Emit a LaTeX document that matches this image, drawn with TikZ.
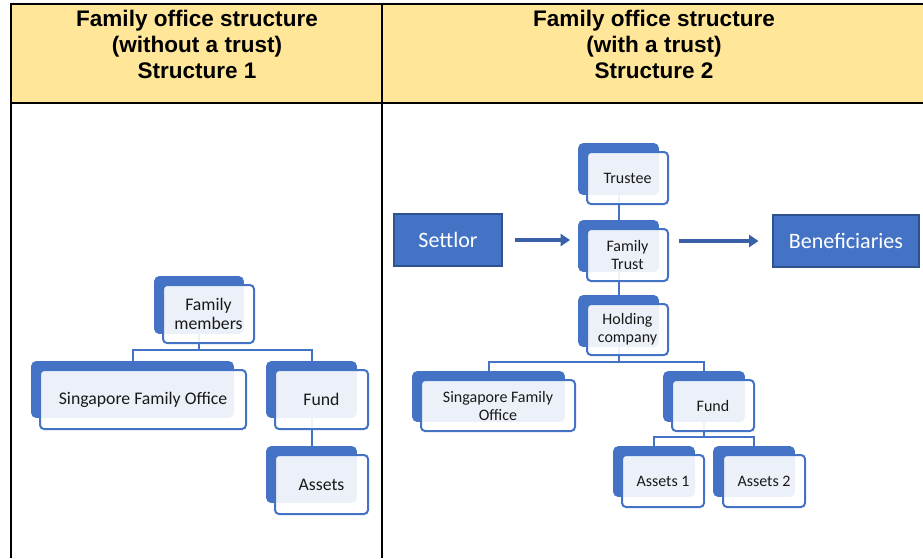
\documentclass[tikz,border=0pt]{standalone}
\usepackage{fontspec}
\usetikzlibrary{arrows.meta}
\newfontfamily\hdrfont{Liberation Sans}
\newfontfamily\calfont{Carlito}
\definecolor{blueA}{HTML}{4472C4}
\definecolor{blueD}{HTML}{2F528F}
\definecolor{arrowblue}{HTML}{3A60A8}
\definecolor{hdryellow}{HTML}{FFE699}
\pgfdeclarelayer{bg}
\pgfsetlayers{bg,main}
\tikzset{
  wh/.style 2 args={minimum width=#1*0.75pt, minimum height=#2*0.75pt},
  backbox/.style={draw=blueA, fill=blueA, rounded corners=3pt, inner sep=0pt, outer sep=0pt, line width=1.2pt},
  frontbox/.style={draw=blueA, fill=white, fill opacity=0.9, text opacity=1, draw opacity=1,
    rounded corners=3pt, inner sep=0pt, outer sep=0pt, line width=1.5pt, align=center, text=black!90},
  leftfont/.style={font=\calfont\fontsize{13.3}{14.4}\selectfont},
  rightfont/.style={font=\calfont\fontsize{12}{13.5}\selectfont},
  solidbox/.style={draw=blueD, fill=blueA, line width=0.8pt, inner sep=0pt, text=white,
    font=\calfont\fontsize{16.5}{18}\selectfont},
  conn/.style={draw=blueA, line width=1.5pt},
  bigarrow/.style={draw=arrowblue, line width=3pt, -{Triangle[length=7pt,width=9pt]}},
  hdrtext/.style={align=center, font=\hdrfont\bfseries\fontsize{16.9}{19.5}\selectfont},
  tableline/.style={draw=black, line width=1.5pt}
}
\begin{document}
\begin{tikzpicture}[x=0.75pt, y=-0.75pt]
\useasboundingbox (0,0) rectangle (923,558);
% table
\fill[hdryellow] (11,4) rectangle (923,103);
\draw[tableline] (10,4) -- (923,4);
\draw[tableline] (11,3) -- (11,558);
\draw[tableline] (382,3) -- (382,558);
\draw[tableline] (11,103) -- (923,103);
\node[hdrtext] (h1) at (197,44) {Family office structure\\(without a trust)\\Structure 1};
\node[hdrtext] (h2) at (654,44) {Family office structure\\(with a trust)\\Structure 2};

% ---------- Structure 1 ----------
\node[backbox, wh={88}{56}] (fmB) at (199,305) {};
\node[frontbox, leftfont, wh={91}{58}] (fm) at (208.5,314) {Family\\members};
\node[backbox, wh={201}{55}] (sfoB) at (132.5,389.5) {};
\node[frontbox, leftfont, wh={206}{59}] (sfo) at (143,399.5) {Singapore Family Office};
\node[backbox, wh={89}{55}] (fundB) at (311.5,389.5) {};
\node[frontbox, leftfont, wh={93}{59}] (fund) at (321.5,399.5) {Fund};
\node[backbox, wh={89}{55}] (asB) at (311.5,474.5) {};
\node[frontbox, leftfont, wh={93}{59}] (as) at (321.5,484.5) {Assets};
\coordinate (j1) at (199,350);

% ---------- Structure 2 ----------
\node[backbox, wh={79}{50}] (trB) at (618.5,169) {};
\node[frontbox, rightfont, wh={81}{52}] (tr) at (627.5,178) {Trustee};
\node[backbox, wh={79}{50}] (ftB) at (618.5,246) {};
\node[frontbox, rightfont, wh={81}{52}] (ft) at (627.5,255) {Family\\Trust};
\node[backbox, wh={79}{50}] (hcB) at (618.5,321) {};
\node[frontbox, rightfont, wh={81}{51}] (hc) at (627.5,329.5) {Holding\\company};
\node[backbox, wh={151}{49}] (sfo2B) at (488.5,396.5) {};
\node[frontbox, rightfont, wh={154}{51}] (sfo2) at (498,405.5) {Singapore Family\\Office};
\node[backbox, wh={80}{49}] (fund2B) at (704,396.5) {};
\node[frontbox, rightfont, wh={82}{51}] (fund2) at (713,405.5) {Fund};
\node[backbox, wh={80}{49}] (a1B) at (654,471.5) {};
\node[frontbox, rightfont, wh={82}{52}] (a1) at (663,481) {Assets 1};
\node[backbox, wh={80}{49}] (a2B) at (754,471.5) {};
\node[frontbox, rightfont, wh={82}{52}] (a2) at (764,481) {Assets 2};
\node[solidbox, wh={108}{52}] (settlor) at (448,240) {Settlor};
\node[solidbox, wh={146}{52}] (bene) at (846,241) {Beneficiaries};
\coordinate (j2) at (618.5,362);
\coordinate (j3) at (704,437);

% arrows
\draw[bigarrow, shorten <=9pt, shorten >=6.75pt] (settlor.east) -- (settlor.east -| ftB.west);
\draw[bigarrow, shorten <=8.25pt, shorten >=10.5pt] (ft.east |- bene.west) -- (bene.west);

% connectors behind boxes
\begin{pgfonlayer}{bg}
  \draw[conn] (fmB.center) -- (j1);
  \draw[conn] (sfoB.north) |- (j1) -| (fundB.north);
  \draw[conn] (fundB.center) -- (asB.north);
  \draw[conn] (trB.center) -- (ftB.north);
  \draw[conn] (ftB.center) -- (hcB.north);
  \draw[conn] (hcB.center) -- (j2);
  \draw[conn] (sfo2B.north) |- (j2) -| (fund2B.north);
  \draw[conn] (fund2B.center) -- (j3);
  \draw[conn] (a1B.north) |- (j3) -| (a2B.north);
\end{pgfonlayer}
\end{tikzpicture}
\end{document}
